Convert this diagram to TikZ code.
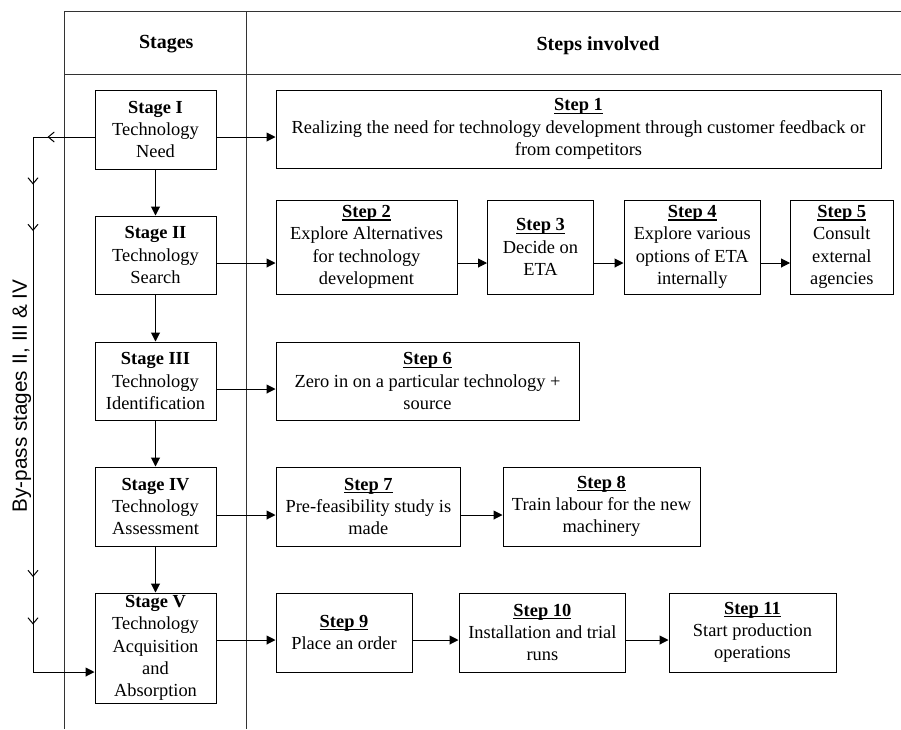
\documentclass[tikz,border=0pt]{standalone}
\usepackage{fontspec}
\setmainfont{Liberation Serif}
\newfontfamily\arialf{Liberation Sans}
\usetikzlibrary{arrows.meta,decorations.markings}
\newsavebox\ulbox
\newcommand\stepul[1]{\sbox\ulbox{\textbf{#1}}\usebox\ulbox\llap{\rule[-2.9pt]{\wd\ulbox}{1.1pt}}}
\begin{document}
\begin{tikzpicture}[x=1pt,y=-1pt,
  box/.style={draw, line width=1pt, inner sep=0pt, align=center,
    font=\fontsize{18.4pt}{22.3pt}\selectfont},
  stagebox/.style={box, minimum width=121pt},
  arr/.style={line width=1pt, -{Triangle[length=9pt,width=9pt]}},
  tbl/.style={line width=1pt, draw=black!80},
  hdr/.style={font=\fontsize{20pt}{24pt}\selectfont\bfseries, anchor=base, inner sep=0pt},
  bypasstip/.tip={Straight Barb[length=6pt,width=10pt,line width=1pt]}
]
\useasboundingbox (0,0) rectangle (901,729);
% table
\draw[tbl] (64,11.7) -- (901,11.7);
\draw[tbl] (64,74) -- (901,74);
\draw[tbl] (64,11.7) -- (64,729);
\draw[tbl] (246,11.7) -- (246,729);
\node[hdr] (hstages) at (166.3,48.5) {Stages};
\node[hdr] (hsteps) at (598,50.5) {Steps involved};
% row coordinates
\coordinate (r1) at (0,137);
\coordinate (r2) at (0,263);
\coordinate (r3) at (0,389);
\coordinate (r4) at (0,515);
\coordinate (r5) at (0,640);
% stages
\node[stagebox, minimum height=79pt] (s1) at (155.5,129.5) {\textbf{Stage I}\\Technology\\Need};
\node[stagebox, minimum height=78pt] (s2) at (155.5,255) {\textbf{Stage II}\\Technology\\Search};
\node[stagebox, minimum height=78pt] (s3) at (155.5,381) {\textbf{Stage III}\\Technology\\Identification};
\node[stagebox, minimum height=79pt] (s4) at (155.5,506.5) {\textbf{Stage IV}\\Technology\\Assessment};
\node[stagebox, minimum height=110pt] (s5) at (155.5,648) {\textbf{Stage V}\\Technology\\Acquisition\\and\\Absorption};
% steps
\node[box, minimum width=605pt, minimum height=78pt] (st1) at (578.5,129) {\stepul{Step 1}\\Realizing the need for technology development through customer feedback or\\from competitors};
\node[box, minimum width=181pt, minimum height=94pt] (st2) at (366.5,247) {\stepul{Step 2}\\Explore Alternatives\\for technology\\development};
\node[box, minimum width=106pt, minimum height=94pt] (st3) at (540.5,247) {\stepul{Step 3}\\Decide on\\ETA};
\node[box, minimum width=136.5pt, minimum height=94pt] (st4) at (692.25,247) {\stepul{Step 4}\\Explore various\\options of ETA\\internally};
\node[box, minimum width=102.5pt, minimum height=94pt] (st5) at (841.75,247) {\stepul{Step 5}\\Consult\\external\\agencies};
\node[box, minimum width=303pt, minimum height=78pt] (st6) at (427.5,381) {\stepul{Step 6}\\Zero in on a particular technology +\\source};
\node[box, minimum width=184.7pt, minimum height=79pt] (st7) at (368.35,506.5) {\stepul{Step 7}\\Pre-feasibility study is\\made};
\node[box, minimum width=197pt, minimum height=79pt] (st8) at (601.5,506.5) {\stepul{Step 8}\\Train labour for the new\\machinery};
\node[box, minimum width=136pt, minimum height=79pt] (st9) at (344,632.5) {\stepul{Step 9}\\Place an order};
\node[box, minimum width=166.7pt, minimum height=79pt] (st10) at (542.35,632.5) {\stepul{Step 10}\\Installation and trial\\runs};
\node[box, minimum width=167pt, minimum height=79pt] (st11) at (752.5,632.5) {\stepul{Step 11}\\Start production\\operations};
% vertical stage arrows
\draw[arr] (s1) -- (s2);
\draw[arr] (s2) -- (s3);
\draw[arr] (s3) -- (s4);
\draw[arr] (s4) -- (s5);
% row arrows
\draw[arr] (s1.east |- r1) -- (st1.west |- r1);
\draw[arr] (s2.east |- r2) -- (st2.west |- r2);
\draw[arr] (st2.east |- r2) -- (st3.west |- r2);
\draw[arr] (st3.east |- r2) -- (st4.west |- r2);
\draw[arr] (st4.east |- r2) -- (st5.west |- r2);
\draw[arr] (s3.east |- r3) -- (st6.west |- r3);
\draw[arr] (s4.east |- r4) -- (st7.west |- r4);
\draw[arr] (st7.east |- r4) -- (st8.west |- r4);
\draw[arr] (s5.east |- r5) -- (st9.west |- r5);
\draw[arr] (st9.east |- r5) -- (st10.west |- r5);
\draw[arr] (st10.east |- r5) -- (st11.west |- r5);
% bypass
\coordinate (b1) at (33,137);
\coordinate (b2) at (33,672);
\draw[arr, postaction={decorate}, decoration={markings,
    mark=at position 47pt with {\arrow{bypasstip}},
    mark=at position 109pt with {\arrow{bypasstip}},
    mark=at position 155.5pt with {\arrow{bypasstip}},
    mark=at position 501.5pt with {\arrow{bypasstip}},
    mark=at position 549pt with {\arrow{bypasstip}}}]
  (s1.west |- b1) -- (b1) -- (b2) -- (s5.west |- b2);
\node[rotate=90, anchor=base, inner sep=0pt,
  font=\arialf\fontsize{20.7pt}{24pt}\selectfont] (bp) at (27,396) {By-pass stages II, III \& IV};
\end{tikzpicture}
\end{document}
